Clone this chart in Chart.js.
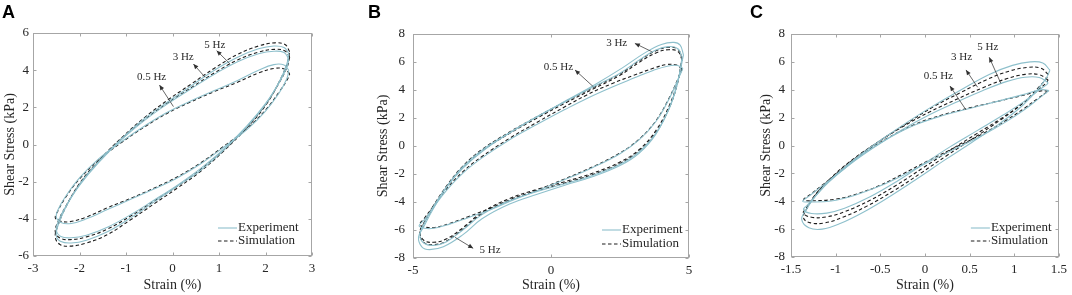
<!DOCTYPE html>
<html><head><meta charset="utf-8">
<script src="https://cdn.jsdelivr.net/npm/chart.js@4.4.0/dist/chart.umd.min.js"></script>
<style>
html,body{margin:0;padding:0;background:#fff;}
#wrap{position:relative;width:1072px;height:295px;overflow:hidden;background:#fff;}
canvas{position:absolute;top:0;}
</style></head><body>
<div id="wrap">
<canvas id="cA" width="357" height="295" style="left:0px"></canvas>
<canvas id="cB" width="357" height="295" style="left:357px"></canvas>
<canvas id="cC" width="358" height="295" style="left:714px"></canvas>
</div>
<script>
// ---------- Tick settings ----------
const A_XTICKS = {min:-3, max:3, step:1};
const A_YTICKS = {min:-6, max:6, step:2};
const B_XTICKS = {min:-5, max:5, step:5};
const B_YTICKS = {min:-8, max:8, step:2};
const C_XTICKS = {min:-1.5, max:1.5, step:0.5};
const C_YTICKS = {min:-8, max:8, step:2};

// ---------- Panel A loops [strain %, shear stress kPa] ----------
const A_EXP_05 = [[2.5,4.0],[2.4,4.28],[2.18,4.3],[1.85,4.0],[1.4,3.45],[0.9,2.9],[0.4,2.35],[-0.1,1.75],[-0.6,1.0],[-1.1,0.15],[-1.6,-0.8],[-2.0,-1.8],[-2.3,-2.8],[-2.46,-3.5],[-2.5,-3.9],[-2.4,-4.2],[-2.18,-4.25],[-1.85,-4.0],[-1.4,-3.5],[-0.9,-2.95],[-0.4,-2.4],[0.1,-1.8],[0.6,-1.05],[1.1,-0.15],[1.6,0.8],[2.0,1.8],[2.3,2.8],[2.46,3.55],[2.5,4.0]];
const A_EXP_3 = [[2.5,4.6],[2.4,4.95],[2.18,5.02],[1.85,4.88],[1.4,4.45],[0.9,3.78],[0.4,3.0],[-0.1,2.2],[-0.6,1.3],[-1.1,0.25],[-1.6,-1.0],[-2.0,-2.2],[-2.3,-3.35],[-2.46,-4.15],[-2.5,-4.6],[-2.4,-4.95],[-2.18,-5.02],[-1.85,-4.88],[-1.4,-4.45],[-0.9,-3.78],[-0.4,-3.0],[0.1,-2.2],[0.6,-1.3],[1.1,-0.25],[1.6,1.0],[2.0,2.2],[2.3,3.35],[2.46,4.15],[2.5,4.6]];
const A_EXP_5 = [[2.5,4.9],[2.4,5.22],[2.18,5.3],[1.85,5.15],[1.4,4.7],[0.9,4.0],[0.4,3.15],[-0.1,2.3],[-0.6,1.4],[-1.1,0.3],[-1.6,-0.95],[-2.0,-2.15],[-2.3,-3.4],[-2.46,-4.35],[-2.5,-4.9],[-2.4,-5.22],[-2.18,-5.3],[-1.85,-5.15],[-1.4,-4.7],[-0.9,-3.95],[-0.4,-3.1],[0.1,-2.25],[0.6,-1.4],[1.1,-0.3],[1.6,0.95],[2.0,2.15],[2.3,3.4],[2.46,4.35],[2.5,4.9]];
const A_SIM_05 = [[2.52,3.8],[2.42,4.05],[2.2,4.1],[1.85,3.85],[1.4,3.35],[0.9,2.85],[0.4,2.3],[-0.1,1.7],[-0.6,0.95],[-1.1,0.1],[-1.6,-0.85],[-2.0,-1.85],[-2.3,-2.85],[-2.47,-3.6],[-2.52,-3.95],[-2.42,-4.12],[-2.2,-4.15],[-1.85,-3.9],[-1.4,-3.4],[-0.9,-2.9],[-0.4,-2.35],[0.1,-1.75],[0.6,-1.0],[1.1,-0.1],[1.6,0.85],[2.0,1.85],[2.3,2.85],[2.47,3.5],[2.52,3.8]];
const A_SIM_3 = [[2.52,4.7],[2.42,5.03],[2.2,5.12],[1.85,4.97],[1.4,4.55],[0.9,3.85],[0.4,3.05],[-0.1,2.25],[-0.6,1.35],[-1.1,0.3],[-1.6,-0.95],[-2.0,-2.15],[-2.3,-3.35],[-2.47,-4.2],[-2.52,-4.7],[-2.42,-5.03],[-2.2,-5.12],[-1.85,-4.97],[-1.4,-4.55],[-0.9,-3.85],[-0.4,-3.05],[0.1,-2.25],[0.6,-1.35],[1.1,-0.3],[1.6,0.95],[2.0,2.15],[2.3,3.35],[2.47,4.2],[2.52,4.7]];
const A_SIM_5 = [[2.52,5.0],[2.42,5.38],[2.2,5.47],[1.85,5.3],[1.4,4.85],[0.9,4.1],[0.4,3.25],[-0.1,2.4],[-0.6,1.45],[-1.1,0.35],[-1.6,-0.9],[-2.0,-2.1],[-2.3,-3.4],[-2.47,-4.4],[-2.52,-5.0],[-2.42,-5.38],[-2.2,-5.47],[-1.85,-5.3],[-1.4,-4.85],[-0.9,-4.05],[-0.4,-3.2],[0.1,-2.35],[0.6,-1.45],[1.1,-0.35],[1.6,0.9],[2.0,2.1],[2.3,3.4],[2.47,4.4],[2.52,5.0]];

// ---------- Panel B loops ----------
const B_EXP_05 = [[4.78,5.55],[4.58,5.75],[4.25,5.72],[3.7,5.4],[3.0,4.85],[2.2,4.2],[1.3,3.4],[0.5,2.6],[-0.5,1.55],[-1.5,0.45],[-2.5,-0.85],[-3.2,-1.95],[-3.8,-3.2],[-4.3,-4.5],[-4.6,-5.3],[-4.78,-5.7],[-4.58,-5.88],[-4.25,-5.88],[-3.7,-5.6],[-3.0,-5.12],[-2.2,-4.55],[-1.3,-3.8],[-0.5,-3.2],[0.5,-2.4],[1.5,-1.55],[2.5,-0.55],[3.2,0.45],[3.8,1.75],[4.3,3.45],[4.6,4.75],[4.78,5.55]];
const B_EXP_3 = [[4.8,6.5],[4.68,7.2],[4.45,7.4],[4.0,7.25],[3.4,6.65],[2.6,5.6],[1.6,4.4],[0.6,3.3],[-0.4,2.2],[-1.4,1.05],[-2.4,-0.25],[-3.2,-1.6],[-3.8,-3.0],[-4.3,-4.6],[-4.62,-5.8],[-4.8,-6.5],[-4.68,-7.2],[-4.4,-7.4],[-3.9,-7.2],[-3.2,-6.35],[-2.5,-5.2],[-1.5,-4.15],[-0.5,-3.45],[0.5,-2.8],[1.5,-2.2],[2.5,-1.4],[3.2,-0.5],[3.8,0.85],[4.3,2.8],[4.6,4.7],[4.8,6.5]];
const B_EXP_5 = [[4.75,6.35],[4.6,6.95],[4.25,7.1],[3.8,6.85],[3.2,6.15],[2.5,5.2],[1.5,4.2],[0.5,3.15],[-0.5,2.1],[-1.5,0.95],[-2.5,-0.3],[-3.2,-1.5],[-3.8,-2.95],[-4.3,-4.45],[-4.6,-5.55],[-4.75,-6.35],[-4.6,-6.95],[-4.25,-7.1],[-3.8,-6.85],[-3.2,-6.0],[-2.5,-4.9],[-1.5,-3.9],[-0.5,-3.25],[0.5,-2.7],[1.5,-2.1],[2.5,-1.3],[3.2,-0.4],[3.8,0.9],[4.3,2.75],[4.6,4.6],[4.75,6.35]];
const B_SIM_05 = [[4.75,5.5],[4.55,5.78],[4.2,5.82],[3.7,5.55],[3.0,5.05],[2.2,4.45],[1.3,3.65],[0.5,2.8],[-0.5,1.7],[-1.5,0.55],[-2.5,-0.75],[-3.2,-1.85],[-3.8,-3.1],[-4.3,-4.4],[-4.6,-5.2],[-4.75,-5.6],[-4.55,-5.8],[-4.2,-5.82],[-3.7,-5.55],[-3.0,-5.05],[-2.2,-4.45],[-1.3,-3.75],[-0.5,-3.15],[0.5,-2.35],[1.5,-1.5],[2.5,-0.5],[3.2,0.5],[3.8,1.8],[4.3,3.5],[4.6,4.8],[4.75,5.5]];
const B_SIM_3 = [[4.75,6.15],[4.6,6.75],[4.25,6.88],[3.8,6.65],[3.2,5.98],[2.5,5.05],[1.5,4.05],[0.5,3.05],[-0.5,2.0],[-1.5,0.9],[-2.5,-0.35],[-3.2,-1.55],[-3.8,-3.0],[-4.3,-4.5],[-4.6,-5.5],[-4.75,-6.15],[-4.6,-6.75],[-4.25,-6.88],[-3.8,-6.65],[-3.2,-5.85],[-2.5,-4.75],[-1.5,-3.75],[-0.5,-3.1],[0.5,-2.55],[1.5,-1.95],[2.5,-1.15],[3.2,-0.25],[3.8,1.1],[4.3,2.95],[4.6,4.7],[4.75,6.15]];
const B_SIM_5 = [[4.75,6.3],[4.6,6.9],[4.25,7.05],[3.8,6.8],[3.2,6.1],[2.5,5.15],[1.5,4.15],[0.5,3.15],[-0.5,2.1],[-1.5,1.0],[-2.5,-0.25],[-3.2,-1.45],[-3.8,-2.9],[-4.3,-4.4],[-4.6,-5.5],[-4.75,-6.3],[-4.6,-6.9],[-4.25,-7.05],[-3.8,-6.8],[-3.2,-5.95],[-2.5,-4.85],[-1.5,-3.85],[-0.5,-3.2],[0.5,-2.65],[1.5,-2.05],[2.5,-1.25],[3.2,-0.35],[3.8,0.95],[4.3,2.8],[4.6,4.6],[4.75,6.3]];

// ---------- Panel C loops ----------
const C_EXP_05 = [[1.39,3.95],[1.3,4.0],[1.1,3.65],[0.8,3.15],[0.5,2.65],[0.2,2.15],[-0.1,1.5],[-0.4,0.55],[-0.7,-0.65],[-0.95,-1.9],[-1.15,-2.9],[-1.29,-3.6],[-1.37,-4.0],[-1.28,-4.05],[-1.05,-3.98],[-0.8,-3.6],[-0.52,-2.95],[-0.25,-2.15],[0.05,-1.15],[0.35,-0.2],[0.65,0.75],[0.92,1.75],[1.12,2.6],[1.27,3.35],[1.39,3.95]];
const C_EXP_3 = [[1.38,4.5],[1.28,4.88],[1.12,4.9],[0.92,4.6],[0.65,3.95],[0.35,3.1],[0.05,2.2],[-0.25,1.15],[-0.55,-0.05],[-0.85,-1.4],[-1.08,-2.65],[-1.23,-3.65],[-1.32,-4.3],[-1.36,-4.6],[-1.27,-4.88],[-1.1,-4.85],[-0.9,-4.5],[-0.62,-3.7],[-0.32,-2.6],[-0.02,-1.35],[0.28,-0.1],[0.58,1.05],[0.88,2.2],[1.12,3.2],[1.28,4.0],[1.36,4.35],[1.38,4.5]];
const C_EXP_5 = [[1.4,5.4],[1.32,5.92],[1.18,6.0],[0.98,5.75],[0.72,5.1],[0.42,4.05],[0.12,2.95],[-0.18,1.75],[-0.48,0.45],[-0.78,-0.95],[-1.04,-2.35],[-1.22,-3.6],[-1.33,-4.6],[-1.38,-5.3],[-1.3,-5.9],[-1.15,-6.0],[-0.95,-5.6],[-0.68,-4.75],[-0.38,-3.6],[-0.08,-2.35],[0.22,-1.05],[0.52,0.2],[0.82,1.5],[1.08,2.8],[1.26,4.0],[1.36,4.85],[1.4,5.4]];
const C_SIM_05 = [[1.38,3.9],[1.3,3.92],[1.1,3.6],[0.8,3.15],[0.5,2.7],[0.2,2.2],[-0.1,1.55],[-0.4,0.6],[-0.7,-0.6],[-0.95,-1.85],[-1.15,-2.85],[-1.28,-3.5],[-1.36,-3.9],[-1.28,-3.97],[-1.0,-3.85],[-0.75,-3.45],[-0.5,-2.85],[-0.25,-2.05],[0.05,-1.05],[0.35,-0.1],[0.65,0.85],[0.92,1.85],[1.12,2.7],[1.27,3.4],[1.38,3.9]];
const C_SIM_3 = [[1.38,4.7],[1.28,5.08],[1.12,5.1],[0.92,4.8],[0.65,4.15],[0.35,3.3],[0.05,2.4],[-0.25,1.35],[-0.55,0.15],[-0.85,-1.2],[-1.08,-2.5],[-1.23,-3.55],[-1.32,-4.4],[-1.36,-4.85],[-1.27,-5.15],[-1.1,-5.12],[-0.9,-4.75],[-0.62,-3.95],[-0.32,-2.85],[-0.02,-1.6],[0.28,-0.35],[0.58,0.85],[0.88,2.05],[1.12,3.15],[1.28,4.05],[1.36,4.5],[1.38,4.7]];
const C_SIM_5 = [[1.38,5.1],[1.3,5.55],[1.15,5.6],[0.95,5.35],[0.7,4.75],[0.4,3.8],[0.1,2.8],[-0.2,1.6],[-0.5,0.35],[-0.8,-1.0],[-1.05,-2.35],[-1.22,-3.5],[-1.32,-4.5],[-1.36,-5.2],[-1.28,-5.55],[-1.12,-5.55],[-0.92,-5.15],[-0.65,-4.35],[-0.35,-3.25],[-0.05,-2.0],[0.25,-0.7],[0.55,0.55],[0.85,1.85],[1.1,3.05],[1.27,4.15],[1.36,4.8],[1.38,5.1]];

// ---------- Frequency labels: text, label centre, arrow head, arrow tail (data units) ----------
const A_NOTES = [
  ['5 Hz', 0.91, 5.35, 0.95, 5.05, 1.24, 4.33],
  ['3 Hz', 0.23, 4.69, 0.45, 4.33, 0.70, 3.62],
  ['0.5 Hz', -0.45, 3.65, -0.28, 3.2, 0.02, 2.04]
];
const B_NOTES = [
  ['3 Hz', 2.38, 7.33, 3.04, 7.33, 3.65, 6.74],
  ['0.5 Hz', 0.27, 5.67, 0.87, 5.43, 1.53, 4.24],
  ['5 Hz', -2.21, -7.43, -2.82, -7.31, -3.48, -6.52]
];
const C_NOTES = [
  ['5 Hz', 0.705, 7.04, 0.72, 6.33, 0.85, 4.46],
  ['3 Hz', 0.41, 6.33, 0.46, 5.42, 0.59, 4.18],
  ['0.5 Hz', 0.15, 4.99, 0.28, 4.27, 0.46, 2.55]
];

const SERIF = "'Liberation Serif','Times New Roman',serif";
const SANS = "'Liberation Sans',Arial,sans-serif";
const EXP_COLOR = '#8ec0cc';
const SIM_COLOR = '#1c1c1c';

function loopDs(arr, exp){
  return {
    data: arr.map(p => ({x:p[0], y:p[1]})),
    showLine: true, pointRadius: 0, pointHoverRadius: 0,
    borderColor: exp ? EXP_COLOR : SIM_COLOR,
    borderWidth: 1.1,
    borderDash: exp ? [] : [3.5, 2.5],
    tension: 0.4, fill: false
  };
}

const deco = {
  id: 'deco',
  afterDraw(chart, args, o) {
    const {ctx, chartArea: a, scales: {x, y}} = chart;
    ctx.save();
    ctx.strokeStyle = '#a6a6a6'; ctx.lineWidth = 1; ctx.setLineDash([]);
    const L = Math.round(a.left) + 0.5, R = Math.round(a.right) - 0.5;
    const T = Math.round(a.top) + 0.5, Bo = Math.round(a.bottom) - 0.5;
    ctx.strokeRect(L, T, R - L, Bo - T);
    const tl = 3;
    ctx.beginPath();
    x.ticks.forEach(t => {
      const px = Math.round(x.getPixelForValue(t.value)) + 0.5;
      ctx.moveTo(px, Bo); ctx.lineTo(px, Bo - tl);
      ctx.moveTo(px, T); ctx.lineTo(px, T + tl);
    });
    y.ticks.forEach(t => {
      const py = Math.round(y.getPixelForValue(t.value)) + 0.5;
      ctx.moveTo(L, py); ctx.lineTo(L + tl, py);
      ctx.moveTo(R, py); ctx.lineTo(R - tl, py);
    });
    ctx.stroke();

    ctx.font = `11px ${SERIF}`;
    ctx.textAlign = 'center'; ctx.textBaseline = 'middle';
    o.notes.forEach(n => {
      const [txt, lx, ly, hx, hy, tx, ty] = n;
      ctx.fillStyle = '#2a2a2a';
      ctx.fillText(txt, x.getPixelForValue(lx), y.getPixelForValue(ly));
      const X1 = x.getPixelForValue(tx), Y1 = y.getPixelForValue(ty);
      const X2 = x.getPixelForValue(hx), Y2 = y.getPixelForValue(hy);
      ctx.strokeStyle = '#404040'; ctx.lineWidth = 0.8;
      ctx.beginPath(); ctx.moveTo(X1, Y1); ctx.lineTo(X2, Y2); ctx.stroke();
      const ang = Math.atan2(Y2 - Y1, X2 - X1);
      const hl = 5, hw = 2.2;
      ctx.fillStyle = '#303030';
      ctx.beginPath();
      ctx.moveTo(X2, Y2);
      ctx.lineTo(X2 - hl*Math.cos(ang) + hw*Math.sin(ang), Y2 - hl*Math.sin(ang) - hw*Math.cos(ang));
      ctx.lineTo(X2 - hl*Math.cos(ang) - hw*Math.sin(ang), Y2 - hl*Math.sin(ang) + hw*Math.cos(ang));
      ctx.closePath(); ctx.fill();
    });

    const lx0 = a.right - o.legX, ly1 = a.bottom - o.legY1, ly2 = a.bottom - o.legY2;
    ctx.lineWidth = 1.1;
    ctx.strokeStyle = EXP_COLOR; ctx.setLineDash([]);
    ctx.beginPath(); ctx.moveTo(lx0, ly1); ctx.lineTo(lx0 + 19, ly1); ctx.stroke();
    ctx.strokeStyle = SIM_COLOR; ctx.setLineDash([3.5, 2.5]);
    ctx.beginPath(); ctx.moveTo(lx0, ly2); ctx.lineTo(lx0 + 19, ly2); ctx.stroke();
    ctx.setLineDash([]);
    ctx.font = `13px ${SERIF}`; ctx.fillStyle = '#262626';
    ctx.textAlign = 'left'; ctx.textBaseline = 'middle';
    ctx.fillText('Experiment', lx0 + 20, ly1);
    ctx.fillText('Simulation', lx0 + 20, ly2);

    ctx.font = `bold 18px ${SANS}`; ctx.fillStyle = '#000';
    ctx.textAlign = 'left'; ctx.textBaseline = 'alphabetic';
    ctx.fillText(o.letter, o.letterX, 18);
    ctx.restore();
  }
};

const fmt = v => String(Math.round(v * 100) / 100);

function makePanel(id, cfg) {
  const tickFont = {family: SERIF, size: 13};
  const titleFont = {family: SERIF, size: 14};
  const datasets = [];
  cfg.exp.forEach(l => datasets.push(loopDs(l, true)));
  cfg.sim.forEach(l => datasets.push(loopDs(l, false)));
  new Chart(document.getElementById(id), {
    type: 'scatter',
    data: {datasets},
    options: {
      responsive: false, animation: false, events: [],
      layout: {padding: {left: cfg.padL, right: cfg.padR, top: cfg.padT, bottom: 0}},
      plugins: {legend: {display: false}, tooltip: {enabled: false},
        deco: {notes: cfg.notes, legX: cfg.legX, legY1: cfg.legY1, legY2: cfg.legY2, letter: cfg.letter, letterX: cfg.letterX}},
      scales: {
        x: {
          type: 'linear', min: cfg.xt.min, max: cfg.xt.max,
          ticks: {stepSize: cfg.xt.step, autoSkip: false, maxRotation: 0, padding: 5, color: '#262626', font: tickFont, callback: fmt},
          grid: {display: false, drawTicks: false}, border: {display: false},
          title: {display: true, text: 'Strain (%)', color: '#262626', font: titleFont, padding: {top: 0, bottom: 1}},
          afterFit: s => { s.height = cfg.xH; }
        },
        y: {
          type: 'linear', min: cfg.yt.min, max: cfg.yt.max,
          ticks: {stepSize: cfg.yt.step, autoSkip: false, padding: cfg.yPad, color: '#262626', font: tickFont, callback: fmt},
          grid: {display: false, drawTicks: false}, border: {display: false},
          title: {display: true, text: 'Shear Stress (kPa)', color: '#262626', font: titleFont, padding: {top: 2, bottom: 0}},
          afterFit: s => { s.width = cfg.yW; }
        }
      }
    },
    plugins: [deco]
  });
}

makePanel('cA', {exp: [A_EXP_05, A_EXP_3, A_EXP_5], sim: [A_SIM_05, A_SIM_3, A_SIM_5],
  xt: A_XTICKS, yt: A_YTICKS, notes: A_NOTES, padL: 0, padR: 45, padT: 33, yW: 33, xH: 39, yPad: 4,
  legX: 94, legY1: 28, legY2: 15, letter: 'A', letterX: 2});
makePanel('cB', {exp: [B_EXP_05, B_EXP_3, B_EXP_5], sim: [B_SIM_05, B_SIM_3, B_SIM_5],
  xt: B_XTICKS, yt: B_YTICKS, notes: B_NOTES, padL: 16, padR: 25, padT: 34, yW: 40, xH: 37, yPad: 8,
  legX: 87, legY1: 28, legY2: 14, letter: 'B', letterX: 11});
makePanel('cC', {exp: [C_EXP_05, C_EXP_3, C_EXP_5], sim: [C_SIM_05, C_SIM_3, C_SIM_5],
  xt: C_XTICKS, yt: C_YTICKS, notes: C_NOTES, padL: 42, padR: 12, padT: 34, yW: 35, xH: 38, yPad: 6,
  legX: 88, legY1: 29, legY2: 16, letter: 'C', letterX: 36});
</script>
</body></html>
